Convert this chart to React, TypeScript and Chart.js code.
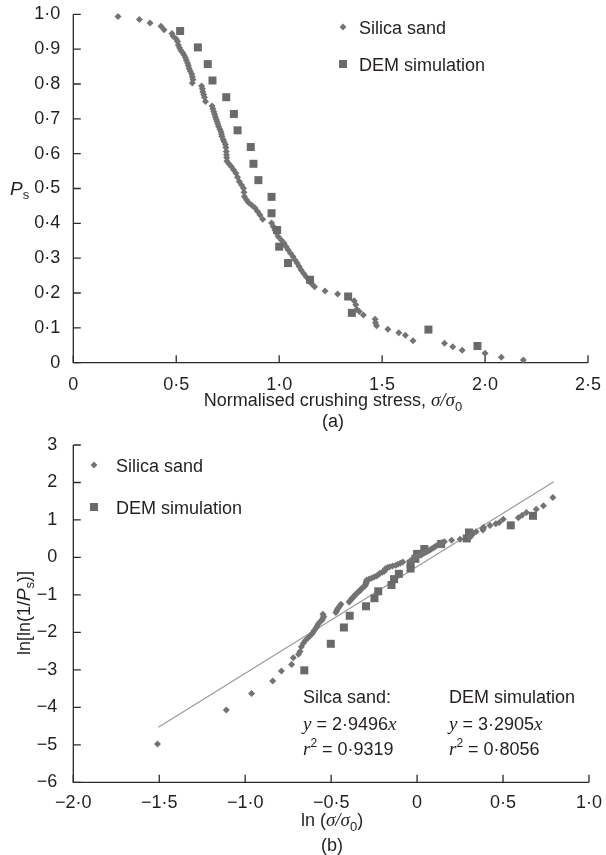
import React, { useEffect, useRef } from 'react';
import { Chart, registerables } from 'chart.js';

Chart.register(...registerables);

// ---------- DATA ----------
// (a) normalised crushing stress vs survival probability
const silicaStress: [number, number][] = [
  [0.217, 0.994], [0.321, 0.985], [0.373, 0.975], [0.426, 0.966], [0.441, 0.956], [0.479, 0.945],
  [0.485, 0.937], [0.5, 0.929], [0.506, 0.922], [0.51, 0.912], [0.516, 0.904], [0.522, 0.897],
  [0.53, 0.89], [0.538, 0.883], [0.545, 0.875], [0.549, 0.868], [0.555, 0.86], [0.559, 0.853],
  [0.562, 0.845], [0.568, 0.837], [0.575, 0.829], [0.578, 0.821], [0.581, 0.813], [0.578, 0.803],
  [0.623, 0.794], [0.627, 0.786], [0.629, 0.778], [0.633, 0.77], [0.637, 0.762], [0.642, 0.75],
  [0.674, 0.737], [0.678, 0.729], [0.682, 0.721], [0.686, 0.714], [0.69, 0.706], [0.694, 0.699],
  [0.698, 0.692], [0.702, 0.685], [0.706, 0.678], [0.712, 0.67], [0.717, 0.663], [0.72, 0.656],
  [0.722, 0.649], [0.728, 0.641], [0.733, 0.634], [0.739, 0.626], [0.741, 0.618], [0.743, 0.606],
  [0.744, 0.597], [0.745, 0.588], [0.746, 0.578], [0.757, 0.57], [0.767, 0.563], [0.779, 0.553],
  [0.79, 0.544], [0.798, 0.532], [0.806, 0.52], [0.817, 0.51], [0.827, 0.501], [0.829, 0.489],
  [0.831, 0.477], [0.841, 0.468], [0.851, 0.46], [0.867, 0.452], [0.883, 0.444], [0.895, 0.434],
  [0.907, 0.424], [0.92, 0.412], [0.963, 0.401], [0.971, 0.391], [0.979, 0.381], [0.987, 0.372],
  [0.995, 0.362], [1.01, 0.352], [1.024, 0.343], [1.034, 0.333], [1.043, 0.324], [1.055, 0.314],
  [1.067, 0.305], [1.077, 0.295], [1.087, 0.286], [1.097, 0.276], [1.107, 0.266], [1.119, 0.256],
  [1.131, 0.247], [1.148, 0.233], [1.16, 0.225], [1.172, 0.218], [1.223, 0.206], [1.284, 0.197],
  [1.364, 0.178], [1.372, 0.166], [1.377, 0.153], [1.389, 0.147], [1.409, 0.137], [1.466, 0.125],
  [1.468, 0.115], [1.473, 0.106], [1.528, 0.096], [1.581, 0.086], [1.613, 0.079], [1.65, 0.063],
  [1.803, 0.056], [1.843, 0.046], [1.889, 0.036], [2.0, 0.027], [2.079, 0.016], [2.186, 0.008],
];
const demStress: [number, number][] = [
  [0.519, 0.952], [0.605, 0.905], [0.653, 0.857], [0.676, 0.81], [0.743, 0.762], [0.78, 0.714],
  [0.798, 0.667], [0.862, 0.619], [0.875, 0.571], [0.899, 0.524], [0.963, 0.476], [0.963, 0.429],
  [0.99, 0.381], [1.0, 0.333], [1.043, 0.286], [1.15, 0.238], [1.335, 0.19], [1.353, 0.143],
  [1.725, 0.095], [1.963, 0.048],
];

// (b) Weibull plot ln(σ/σ0) vs ln[ln(1/Ps)]
const silicaWeibull: [number, number][] = [
  [-1.51, -4.98], [-1.11, -4.07], [-0.963, -3.63], [-0.84, -3.3], [-0.789, -3.03], [-0.73, -2.86],
  [-0.72, -2.68], [-0.69, -2.58], [-0.681, -2.511], [-0.673, -2.385], [-0.662, -2.293], [-0.65, -2.219],
  [-0.635, -2.15], [-0.62, -2.084], [-0.607, -2.014], [-0.6, -1.955], [-0.589, -1.892], [-0.582, -1.839],
  [-0.576, -1.781], [-0.566, -1.726], [-0.553, -1.674], [-0.548, -1.624], [-0.543, -1.575], [-0.548, -1.517],
  [-0.473, -1.467], [-0.467, -1.424], [-0.464, -1.382], [-0.457, -1.342], [-0.451, -1.303], [-0.443, -1.246],
  [-0.395, -1.187], [-0.389, -1.152], [-0.383, -1.117], [-0.377, -1.088], [-0.371, -1.055], [-0.365, -1.027],
  [-0.359, -0.999], [-0.354, -0.972], [-0.348, -0.945], [-0.34, -0.915], [-0.333, -0.889], [-0.329, -0.864],
  [-0.326, -0.839], [-0.317, -0.81], [-0.311, -0.786], [-0.302, -0.758], [-0.3, -0.731], [-0.297, -0.691],
  [-0.296, -0.662], [-0.294, -0.633], [-0.293, -0.601], [-0.278, -0.576], [-0.265, -0.554], [-0.25, -0.523],
  [-0.236, -0.496], [-0.226, -0.46], [-0.216, -0.425], [-0.202, -0.396], [-0.19, -0.37], [-0.188, -0.335],
  [-0.185, -0.301], [-0.173, -0.275], [-0.161, -0.253], [-0.143, -0.231], [-0.124, -0.208], [-0.111, -0.181],
  [-0.098, -0.153], [-0.083, -0.12], [-0.038, -0.09], [-0.029, -0.063], [-0.021, -0.036], [-0.013, -0.011],
  [-0.005, 0.016], [0.01, 0.043], [0.024, 0.068], [0.033, 0.095], [0.042, 0.12], [0.054, 0.147],
  [0.065, 0.172], [0.074, 0.2], [0.083, 0.225], [0.093, 0.253], [0.102, 0.281], [0.112, 0.309],
  [0.123, 0.335], [0.138, 0.376], [0.148, 0.4], [0.159, 0.421], [0.201, 0.457], [0.25, 0.485],
  [0.31, 0.546], [0.316, 0.585], [0.32, 0.63], [0.329, 0.651], [0.343, 0.687], [0.383, 0.732],
  [0.384, 0.771], [0.387, 0.808], [0.424, 0.852], [0.458, 0.897], [0.478, 0.931], [0.501, 1.017],
  [0.589, 1.059], [0.611, 1.125], [0.636, 1.201], [0.693, 1.284], [0.735, 1.38], [0.79, 1.6],
];
const demWeibull: [number, number][] = [
  [-0.656, -3.012], [-0.502, -2.304], [-0.426, -1.869], [-0.392, -1.557], [-0.297, -1.303], [-0.248, -1.088],
  [-0.226, -0.904], [-0.149, -0.735], [-0.134, -0.579], [-0.106, -0.437], [-0.038, -0.298], [-0.038, -0.167],
  [-0.01, -0.036], [0.0, 0.095], [0.042, 0.225], [0.14, 0.361], [0.289, 0.507], [0.302, 0.665],
  [0.545, 0.856], [0.674, 1.111],
];
const fitLine: [number, number][] = [[-1.505, -4.53], [0.795, 2.02]];

const topXTicks = [0, 0.5, 1.0, 1.5, 2.0, 2.5];
const topYTicks = [0, 0.1, 0.2, 0.3, 0.4, 0.5, 0.6, 0.7, 0.8, 0.9, 1.0];
const botXTicks = [-2.0, -1.5, -1.0, -0.5, 0, 0.5, 1.0];
const botYTicks = [-6, -5, -4, -3, -2, -1, 0, 1, 2, 3];

const seriesNames = ['Silica sand', 'DEM simulation'];
const fitSilica = ['Silca sand:', '2·9496', '0·9319'];
const fitDem = ['DEM simulation', '3·2905', '0·8056'];

// ---------- STYLE ----------
const SANS = '"Liberation Sans", Arial, Helvetica, sans-serif';
const SERIF = '"Liberation Serif", "Times New Roman", serif';
const TEXT = '#231f20';
const AXIS = '#2a2a2a';
const DIAMOND = '#737373';
const SQUARE = '#6a6a6a';
const FS = 18;

function fmt(v: number, dec: number): string {
  if (Math.abs(v) < 1e-9) return '0';
  const s = Math.abs(v).toFixed(dec).replace('.', '·');
  return (v < 0 ? '−' : '') + s;
}

type Seg = { t: string; font: string; dy?: number };
function drawRich(ctx: CanvasRenderingContext2D, segs: Seg[], x: number, y: number, align: 'left' | 'center') {
  ctx.save();
  ctx.textBaseline = 'alphabetic';
  ctx.textAlign = 'left';
  ctx.fillStyle = TEXT;
  let total = 0;
  for (const s of segs) {
    ctx.font = s.font;
    total += ctx.measureText(s.t).width;
  }
  let cx = align === 'center' ? x - total / 2 : x;
  for (const s of segs) {
    ctx.font = s.font;
    ctx.fillText(s.t, cx, y + (s.dy || 0));
    cx += ctx.measureText(s.t).width;
  }
  ctx.restore();
}

const sans = (size = FS) => `${size}px ${SANS}`;
const ital = (size = FS + 1) => `italic ${size}px ${SERIF}`;

function diamond(ctx: CanvasRenderingContext2D, x: number, y: number, r: number) {
  ctx.beginPath();
  ctx.moveTo(x, y - r);
  ctx.lineTo(x + r, y);
  ctx.lineTo(x, y + r);
  ctx.lineTo(x - r, y);
  ctx.closePath();
  ctx.fillStyle = DIAMOND;
  ctx.fill();
}
function square(ctx: CanvasRenderingContext2D, x: number, y: number, s: number) {
  ctx.fillStyle = SQUARE;
  ctx.fillRect(x - s / 2, y - s / 2, s, s);
}

const axesPlugin = {
  id: 'axesTicks',
  beforeDatasetsDraw(chart: any) {
    const { ctx, chartArea } = chart;
    const { left, right, top, bottom } = chartArea;
    const xs = chart.scales.x;
    const ys = chart.scales.y;
    ctx.save();
    ctx.strokeStyle = AXIS;
    ctx.lineWidth = 1.3;
    ctx.beginPath();
    ctx.moveTo(left, top);
    ctx.lineTo(left, bottom);
    ctx.lineTo(right, bottom);
    ctx.stroke();
    ctx.beginPath();
    xs.ticks.forEach((t: any) => {
      const px = xs.getPixelForValue(t.value);
      ctx.moveTo(px, bottom);
      ctx.lineTo(px, bottom - 7.5);
    });
    ys.ticks.forEach((t: any) => {
      const py = ys.getPixelForValue(t.value);
      ctx.moveTo(left, py);
      ctx.lineTo(left + 7.5, py);
    });
    ctx.stroke();
    ctx.restore();
  },
};

const topTextPlugin = {
  id: 'topText',
  afterDraw(chart: any) {
    const ctx: CanvasRenderingContext2D = chart.ctx;
    // legend
    diamond(ctx, 343, 27, 3.4);
    drawRich(ctx, [{ t: seriesNames[0], font: sans() }], 359, 33.5, 'left');
    square(ctx, 343, 64, 8);
    drawRich(ctx, [{ t: seriesNames[1], font: sans() }], 359, 70.5, 'left');
    // y title
    drawRich(ctx, [{ t: 'P', font: `italic ${FS + 1}px ${SANS}` }, { t: 's', font: sans(13), dy: 4 }], 10, 195, 'left');
    // x title
    drawRich(
      ctx,
      [
        { t: 'Normalised crushing stress, ', font: sans() },
        { t: 'σ/σ', font: ital() },
        { t: '0', font: sans(13), dy: 5 },
      ],
      333,
      406,
      'center',
    );
    drawRich(ctx, [{ t: '(a)', font: sans() }], 333, 427, 'center');
  },
};

const botTextPlugin = {
  id: 'botText',
  afterDraw(chart: any) {
    const ctx: CanvasRenderingContext2D = chart.ctx;
    diamond(ctx, 94, 40, 3.4);
    drawRich(ctx, [{ t: seriesNames[0], font: sans() }], 116, 46.5, 'left');
    square(ctx, 94, 82, 8);
    drawRich(ctx, [{ t: seriesNames[1], font: sans() }], 116, 88.5, 'left');

    const cols: [number, string[]][] = [[303, fitSilica], [449, fitDem]];
    for (const [x, f] of cols) {
      drawRich(ctx, [{ t: f[0], font: sans() }], x, 277.5, 'left');
      drawRich(ctx, [{ t: 'y', font: ital() }, { t: ' = ' + f[1], font: sans() }, { t: 'x', font: ital() }], x, 304.5, 'left');
      drawRich(ctx, [{ t: 'r', font: ital() }, { t: '2', font: sans(12), dy: -8 }, { t: ' = ' + f[2], font: sans() }], x, 329.5, 'left');
    }
    // x title
    drawRich(
      ctx,
      [
        { t: 'ln (', font: sans() },
        { t: 'σ/σ', font: ital() },
        { t: '0', font: sans(13), dy: 5 },
        { t: ')', font: sans() },
      ],
      332,
      401,
      'center',
    );
    drawRich(ctx, [{ t: '(b)', font: sans() }], 332, 426, 'center');
    // y title (rotated)
    ctx.save();
    ctx.translate(29.5, 188);
    ctx.rotate(-Math.PI / 2);
    drawRich(
      ctx,
      [
        { t: 'ln[ln(1/', font: sans() },
        { t: 'P', font: `italic ${FS + 1}px ${SANS}` },
        { t: 's', font: sans(13), dy: 4 },
        { t: ')]', font: sans() },
      ],
      0,
      0,
      'center',
    );
    ctx.restore();
  },
};

function pts(a: [number, number][]) {
  return a.map(([x, y]) => ({ x, y }));
}

function tickFont() {
  return { family: SANS, size: FS, lineHeight: 1.0 };
}

export default function App() {
  const topRef = useRef<HTMLCanvasElement>(null);
  const botRef = useRef<HTMLCanvasElement>(null);

  useEffect(() => {
    const c1 = new Chart(topRef.current as HTMLCanvasElement, {
      type: 'scatter',
      data: {
        datasets: [
          {
            label: seriesNames[1],
            data: pts(demStress),
            pointStyle: 'rect',
            pointRadius: 5.66,
            pointBackgroundColor: SQUARE,
            pointBorderWidth: 0,
            clip: false,
          } as any,
          {
            label: seriesNames[0],
            data: pts(silicaStress),
            pointStyle: 'rectRot',
            pointRadius: 3.5,
            pointBackgroundColor: DIAMOND,
            pointBorderWidth: 0,
            clip: false,
          } as any,
        ],
      },
      options: {
        animation: false,
        responsive: false,
        devicePixelRatio: 1,
        layout: { padding: { top: 14.3, right: 14.3, left: 0, bottom: 0 } },
        plugins: { legend: { display: false }, tooltip: { enabled: false } },
        scales: {
          x: {
            type: 'linear',
            min: 0,
            max: 2.5,
            afterBuildTicks: (s: any) => {
              s.ticks = topXTicks.map((v) => ({ value: v }));
            },
            afterFit: (s: any) => {
              s.height = 440 - 362.7;
            },
            grid: { display: false },
            border: { display: false },
            ticks: {
              padding: 5,
              color: TEXT,
              font: tickFont(),
              maxRotation: 0,
              autoSkip: false,
              callback: (v: any) => fmt(Number(v), 1),
            },
          },
          y: {
            type: 'linear',
            min: 0,
            max: 1,
            afterBuildTicks: (s: any) => {
              s.ticks = topYTicks.map((v) => ({ value: v }));
            },
            afterFit: (s: any) => {
              s.width = 73.3;
            },
            grid: { display: false },
            border: { display: false },
            ticks: {
              padding: 5,
              color: TEXT,
              font: tickFont(),
              autoSkip: false,
              callback: (v: any) => fmt(Number(v), 1),
            },
          },
        },
      } as any,
      plugins: [axesPlugin, topTextPlugin],
    });

    const c2 = new Chart(botRef.current as HTMLCanvasElement, {
      type: 'scatter',
      data: {
        datasets: [
          {
            type: 'line',
            label: 'fit',
            data: pts(fitLine),
            borderColor: '#9a9a9a',
            borderWidth: 1.2,
            pointRadius: 0,
            fill: false,
            showLine: true,
            clip: false,
            order: 3,
          } as any,
          {
            label: seriesNames[1],
            data: pts(demWeibull),
            pointStyle: 'rect',
            pointRadius: 5.66,
            pointBackgroundColor: SQUARE,
            pointBorderWidth: 0,
            clip: false,
            order: 2,
          } as any,
          {
            label: seriesNames[0],
            data: pts(silicaWeibull),
            pointStyle: 'rectRot',
            pointRadius: 3.5,
            pointBackgroundColor: DIAMOND,
            pointBorderWidth: 0,
            clip: false,
            order: 1,
          } as any,
        ],
      },
      options: {
        animation: false,
        responsive: false,
        devicePixelRatio: 1,
        layout: { padding: { top: 20, right: 14.3, left: 0, bottom: 0 } },
        plugins: { legend: { display: false }, tooltip: { enabled: false } },
        scales: {
          x: {
            type: 'linear',
            min: -2,
            max: 1,
            afterBuildTicks: (s: any) => {
              s.ticks = botXTicks.map((v) => ({ value: v }));
            },
            afterFit: (s: any) => {
              s.height = 430 - 357.3;
            },
            grid: { display: false },
            border: { display: false },
            ticks: {
              padding: 4,
              color: TEXT,
              font: tickFont(),
              maxRotation: 0,
              autoSkip: false,
              callback: (v: any) => fmt(Number(v), 1),
            },
          },
          y: {
            type: 'linear',
            min: -6,
            max: 3,
            afterBuildTicks: (s: any) => {
              s.ticks = botYTicks.map((v) => ({ value: v }));
            },
            afterFit: (s: any) => {
              s.width = 73.3;
            },
            grid: { display: false },
            border: { display: false },
            ticks: {
              padding: 8,
              color: TEXT,
              font: tickFont(),
              autoSkip: false,
              callback: (v: any) => fmt(Number(v), 0),
            },
          },
        },
      } as any,
      plugins: [axesPlugin, botTextPlugin],
    });

    return () => {
      c1.destroy();
      c2.destroy();
    };
  }, []);

  return (
    <div style={{ position: 'absolute', left: 0, top: 0, width: 606, height: 855, background: '#ffffff' }}>
      <canvas
        ref={topRef}
        width={606}
        height={440}
        style={{ position: 'absolute', left: 0, top: 0, width: 606, height: 440 }}
      />
      <canvas
        ref={botRef}
        width={606}
        height={430}
        style={{ position: 'absolute', left: 0, top: 425, width: 606, height: 430 }}
      />
    </div>
  );
}
